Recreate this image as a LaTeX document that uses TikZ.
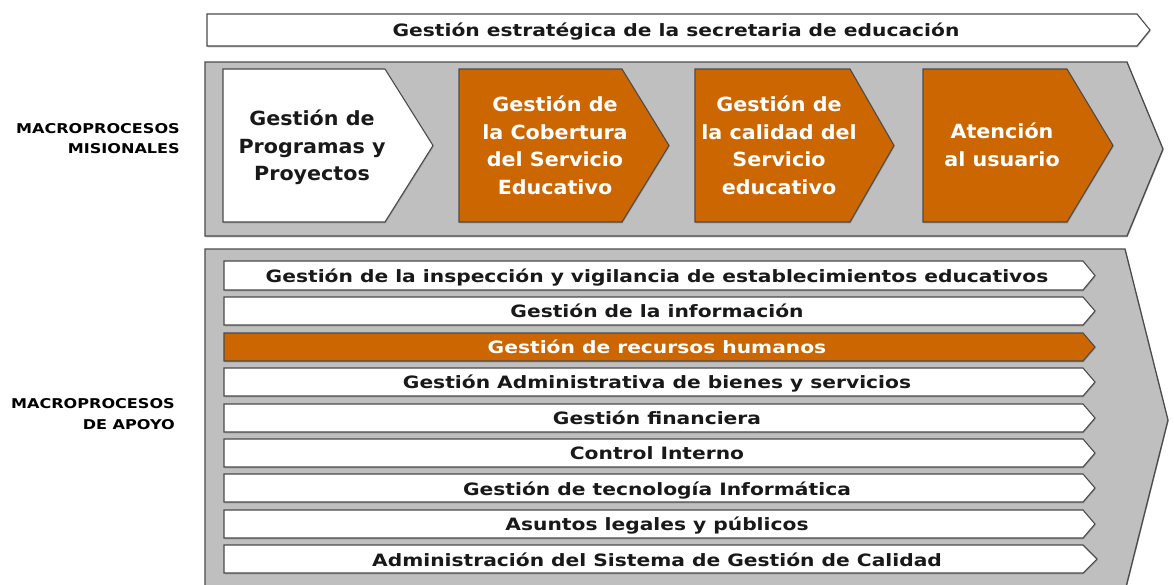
\documentclass[tikz,border=0pt]{standalone}
\usepackage{fontspec}
\setmainfont{DejaVu Sans}
\usetikzlibrary{positioning,shadows}
\definecolor{naranja}{RGB}{204,102,0}
\definecolor{grisfondo}{RGB}{191,191,191}
\definecolor{borde}{RGB}{75,75,75}
\tikzset{
	sombra/.style={drop shadow={shadow xshift=0.6pt, shadow yshift=-1.3pt, fill=black!50, opacity=0.55}},
	panel/.style={fill=grisfondo, draw=borde, line width=1.3pt, sombra},
	caja/.style={fill=white, draw=borde, line width=1.1pt, sombra},
	cajanar/.style={fill=naranja, draw=borde, line width=1.1pt, sombra},
	texto/.style={font=\bfseries\fontsize{17}{21}\selectfont, text=black!90, inner sep=0pt, xscale=1.19, text height=13pt, text depth=0pt},
	textogr/.style={font=\bfseries\fontsize{19.5}{27.5}\selectfont, align=center, inner sep=0pt, xscale=1.06},
	rotulo/.style={font=\bfseries\fontsize{13.5}{20.5}\selectfont, align=right, xscale=1.19, inner sep=0pt, anchor=east},
}
\begin{document}
\begin{tikzpicture}[x=1pt,y=-1pt]
		\useasboundingbox (0,0) rectangle (1174,584);
		% estrategica
		\draw[caja] (207,14) -- (1137,14) -- (1150,30) -- (1137,46) -- (207,46) -- cycle;
		\node[texto] (estrategica) at (676,30) {Gestión estratégica de la secretaria de educación};
		
		% misionales
		\draw[panel] (205,62) -- (1127,62) -- (1163,149) -- (1127,236) -- (205,236) -- cycle;
		\node[rotulo] (misionales) at (180,138.5) {MACROPROCESOS\\MISIONALES};
		\draw[caja] (223,69) -- (385,69) -- (433,145.5) -- (385,222) -- (223,222) -- cycle;
		\draw[cajanar] (459,69) -- (622,69) -- (669,145.5) -- (622,222) -- (459,222) -- cycle;
		\draw[cajanar] (695,69) -- (850,69) -- (894,145.5) -- (850,222) -- (695,222) -- cycle;
		\draw[cajanar] (923,69) -- (1067,69) -- (1113,145.5) -- (1067,222) -- (923,222) -- cycle;
		\node[textogr, text=black!90] (programas) at (312,147.5) {Gestión de\\Programas y\\Proyectos};
		\node[textogr, text=white] (cobertura) at (555,145.5) {Gestión de\\la Cobertura\\del Servicio\\Educativo};
		\node[textogr, text=white] (calidad) at (779,145.5) {Gestión de\\la calidad del\\Servicio\\educativo};
		\node[textogr, text=white] (atencion) at (1002,145) {Atención\\al usuario};
		
		% apoyo
		\draw[panel] (205,249) -- (1125,249) -- (1168,420) -- (1125,591) -- (205,591) -- cycle;
		\node[rotulo] (apoyo) at (175,414) {MACROPROCESOS\\DE APOYO};
		\draw[caja] (224,261) -- (1083,261) -- (1095,275.5) -- (1083,290) -- (224,290) -- cycle;
		\draw[caja] (224,297) -- (1083,297) -- (1095,311) -- (1083,325) -- (224,325) -- cycle;
		\draw[cajanar] (224,333) -- (1083,333) -- (1095,347) -- (1083,361) -- (224,361) -- cycle;
		\draw[caja] (224,368) -- (1083,368) -- (1095,382) -- (1083,396) -- (224,396) -- cycle;
		\draw[caja] (224,404) -- (1083,404) -- (1095,418) -- (1083,432) -- (224,432) -- cycle;
		\draw[caja] (224,439) -- (1083,439) -- (1095,453) -- (1083,467) -- (224,467) -- cycle;
		\draw[caja] (224,474) -- (1083,474) -- (1095,488) -- (1083,502) -- (224,502) -- cycle;
		\draw[caja] (224,510) -- (1083,510) -- (1095,524) -- (1083,538) -- (224,538) -- cycle;
		\draw[caja] (224,545) -- (1083,545) -- (1097,559) -- (1083,573) -- (224,573) -- cycle;
		\node[texto] (inspeccion) at (657,275.5) {Gestión de la inspección y vigilancia de establecimientos educativos};
		\node[texto] (informacion) at (657,311) {Gestión de la información};
		\node[texto, text=white] (humanos) at (657,347) {Gestión de recursos humanos};
		\node[texto] (bienes) at (657,382) {Gestión Administrativa de bienes y servicios};
		\node[texto] (financiera) at (657,418) {Gestión financiera};
		\node[texto] (control) at (657,453) {Control Interno};
		\node[texto] (tecnologia) at (657,488.5) {Gestión de tecnología Informática};
		\node[texto] (legales) at (657,524) {Asuntos legales y públicos};
		\node[texto] (calidadsg) at (657,559.5) {Administración del Sistema de Gestión de Calidad};
	\end{tikzpicture}
\end{document}
